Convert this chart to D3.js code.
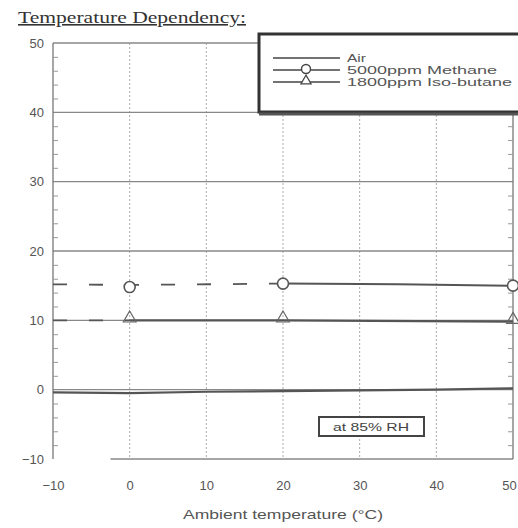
<!DOCTYPE html>
<html>
<head>
<meta charset="utf-8">
<script src="https://cdn.jsdelivr.net/npm/d3@7"></script>
<style>
body { margin: 0; background: #fff; }
text { font-family: "Liberation Sans", Arial, sans-serif; fill: #444; }
</style>
</head>
<body>
<div id="chart"></div>
<script>
var W = 518, H = 528;

// data
var xTicks = [-10, 0, 10, 20, 30, 40, 50],
	yTicks = [-10, 0, 10, 20, 30, 40, 50],
	airData = [[-10, -0.4], [0, -0.5], [10, -0.3], [20, -0.2], [30, -0.1], [40, 0.0], [50, 0.2]],
	methaneDashed = [[-10, 15.2], [0, 15.1], [20, 15.3]],
	methaneSolid = [[20, 15.3], [35, 15.2], [50, 15.0]],
	methanePoints = [[0, 14.8], [20, 15.3], [50, 15.0]],
	butaneDashed = [[-10, 10.0], [0, 10.0]],
	butaneSolid = [[0, 10.0], [20, 10.0], [50, 9.8]],
	butanePoints = [[0, 10.0], [20, 10.0], [50, 9.8]],
	legendNames = ["Air", "5000ppm Methane", "1800ppm Iso-butane"],
	legendWidths = [19, 150, 165];

var margin = {top: 43, right: 5, bottom: 69, left: 53},
	width = W - margin.left - margin.right,
	height = H - margin.top - margin.bottom;

var svg = d3.select("#chart").append("svg")
	.attr("width", W)
	.attr("height", H);

svg.append("text")
	.attr("x", 18)
	.attr("y", 23)
	.attr("textLength", 228)
	.attr("lengthAdjust", "spacingAndGlyphs")
	.style("font-family", "'Liberation Serif', 'DejaVu Serif', serif")
	.style("font-size", "16px")
	.style("text-decoration", "underline")
	.style("fill", "#333")
	.text("Temperature Dependency:");

var g = svg.append("g")
	.attr("transform", "translate(" + margin.left + "," + margin.top + ")");

var x = d3.scaleLinear().domain([-10, 50]).range([0, width]),
	y = d3.scaleLinear().domain([-10, 50]).range([height, 0]);

// vertical dotted grid
g.selectAll(".vgrid")
	.data(xTicks.filter(function(d) { return d > -10 && d < 50; }))
	.enter().append("line")
	.attr("class", "vgrid")
	.attr("x1", function(d) { return x(d); })
	.attr("x2", function(d) { return x(d); })
	.attr("y1", 0)
	.attr("y2", height)
	.attr("stroke", "#aaa")
	.attr("stroke-width", 1)
	.attr("stroke-dasharray", "2,2");

// horizontal grid
g.selectAll(".hgrid")
	.data(yTicks)
	.enter().append("line")
	.attr("class", "hgrid")
	.attr("x1", function(d) { return d == -10 ? x(-2.5) : 0; })
	.attr("x2", width)
	.attr("y1", function(d) { return y(d); })
	.attr("y2", function(d) { return y(d); })
	.attr("stroke", "#888")
	.attr("stroke-width", 1.3);

// frame sides
g.append("line").attr("x1", 0).attr("x2", 0).attr("y1", 0).attr("y2", height)
	.attr("stroke", "#777").attr("stroke-width", 1.3);
g.append("line").attr("x1", width).attr("x2", width).attr("y1", 0).attr("y2", height)
	.attr("stroke", "#777").attr("stroke-width", 1.3);

// minor ticks left and right
var minor = d3.range(-10, 51, 2).filter(function(d) { return d % 10 != 0; });
g.append("g")
	.call(d3.axisRight(y).tickValues(minor).tickSize(5).tickFormat(""))
	.call(function(a) { a.select(".domain").remove(); a.selectAll("line").attr("stroke", "#999"); });
g.append("g")
	.attr("transform", "translate(" + width + ",0)")
	.call(d3.axisLeft(y).tickValues(minor).tickSize(5).tickFormat(""))
	.call(function(a) { a.select(".domain").remove(); a.selectAll("line").attr("stroke", "#999"); });

// axes labels
var yAxis = g.append("g")
	.call(d3.axisLeft(y).tickValues(yTicks).tickSize(0).tickPadding(9));
yAxis.select(".domain").remove();
yAxis.selectAll("text").style("font-size", "13px").style("fill", "#555");

var xAxis = g.append("g")
	.attr("transform", "translate(0," + height + ")")
	.call(d3.axisBottom(x).tickValues(xTicks).tickSize(0).tickPadding(22));
xAxis.select(".domain").remove();
xAxis.selectAll("text").style("font-size", "13px").style("fill", "#555")
	.attr("dx", function(d) { return d == 50 ? -4 : 0; });

svg.append("text")
	.attr("x", margin.left + x(20))
	.attr("y", 519)
	.attr("text-anchor", "middle")
	.attr("textLength", 200)
	.attr("lengthAdjust", "spacingAndGlyphs")
	.style("font-size", "13px")
	.style("fill", "#555")
	.text("Ambient temperature (\u00b0C)");

var line = d3.line()
	.x(function(d) { return x(d[0]); })
	.y(function(d) { return y(d[1]); });

function drawLine(data, dashed, w) {
	g.append("path")
		.datum(data)
		.attr("fill", "none")
		.attr("stroke", "#555")
		.attr("stroke-width", w)
		.attr("stroke-dasharray", dashed ? "14,22" : null)
		.attr("d", line);
}

drawLine(airData, false, 2.2);
drawLine(methaneDashed, true, 1.8);
drawLine(methaneSolid, false, 2);
drawLine(butaneDashed, true, 1.8);
drawLine(butaneSolid, false, 2.2);

var tri = d3.symbol().type(d3.symbolTriangle).size(70);

g.selectAll(".circ")
	.data(methanePoints)
	.enter().append("circle")
	.attr("cx", function(d) { return x(d[0]); })
	.attr("cy", function(d) { return y(d[1]); })
	.attr("r", 5.5)
	.attr("fill", "#fff")
	.attr("stroke", "#555")
	.attr("stroke-width", 1.6);

g.selectAll(".tri")
	.data(butanePoints)
	.enter().append("path")
	.attr("transform", function(d) { return "translate(" + x(d[0]) + "," + (y(d[1]) - 2) + ")"; })
	.attr("d", tri)
	.attr("fill", "none")
	.attr("stroke", "#666")
	.attr("stroke-width", 1.2);

// legend box
var lg = svg.append("g").attr("transform", "translate(259,34)");
lg.append("rect")
	.attr("x", 0).attr("y", 0)
	.attr("width", 270).attr("height", 78)
	.attr("fill", "#fff")
	.attr("stroke", "#333")
	.attr("stroke-width", 3);
lg.append("line").attr("x1", 0).attr("x2", 270).attr("y1", 80).attr("y2", 80)
	.attr("stroke", "#555").attr("stroke-width", 3);

legendNames.forEach(function(name, i) {
	var ly = 24 + i * 12;
	lg.append("line")
		.attr("x1", 14).attr("x2", 81)
		.attr("y1", ly).attr("y2", ly)
		.attr("stroke", "#444").attr("stroke-width", 1.4);
	if (i == 1) {
		lg.append("circle").attr("cx", 47).attr("cy", ly - 1).attr("r", 4.5)
			.attr("fill", "#fff").attr("stroke", "#444").attr("stroke-width", 1.4);
	}
	if (i == 2) {
		lg.append("path").attr("transform", "translate(47," + (ly - 1) + ")")
			.attr("d", d3.symbol().type(d3.symbolTriangle).size(45))
			.attr("fill", "#fff").attr("stroke", "#444").attr("stroke-width", 1.2);
	}
	lg.append("text")
		.attr("x", 88)
		.attr("y", ly + 4)
		.attr("textLength", legendWidths[i])
		.attr("lengthAdjust", "spacingAndGlyphs")
		.style("font-size", "10.5px")
		.style("fill", "#555")
		.text(name);
});

// RH note box
var nb = svg.append("g").attr("transform", "translate(319,417)");
nb.append("rect")
	.attr("width", 105).attr("height", 19)
	.attr("fill", "#fff")
	.attr("stroke", "#444")
	.attr("stroke-width", 2);
nb.append("text")
	.attr("x", 52).attr("y", 14)
	.attr("text-anchor", "middle")
	.attr("textLength", 76)
	.attr("lengthAdjust", "spacingAndGlyphs")
	.style("font-size", "11px")
	.style("fill", "#444")
	.text("at 85% RH");
</script>
</body>
</html>
